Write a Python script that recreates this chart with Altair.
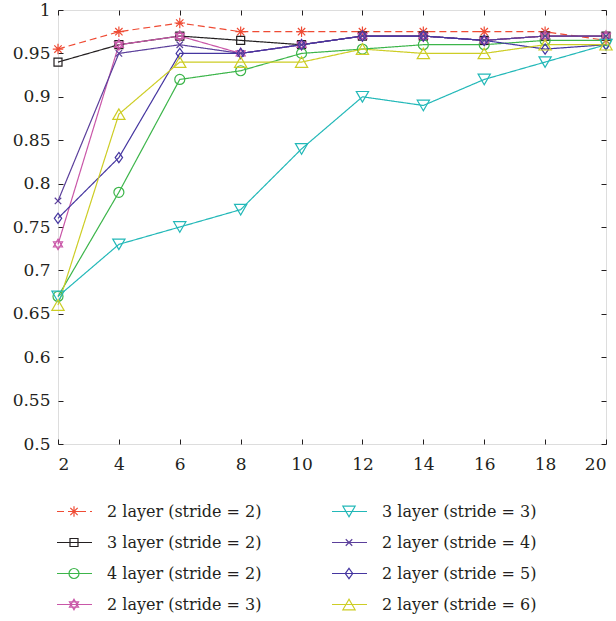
import altair as alt
import pandas as pd

# ---------------- data ----------------
x_vals = [2, 4, 6, 8, 10, 12, 14, 16, 18, 20]
y_ticks = [0.5, 0.55, 0.6, 0.65, 0.7, 0.75, 0.8, 0.85, 0.9, 0.95, 1.0]

series_names = [
    "2 layer (stride = 2)",
    "3 layer (stride = 2)",
    "4 layer (stride = 2)",
    "2 layer (stride = 3)",
    "3 layer (stride = 3)",
    "2 layer (stride = 4)",
    "2 layer (stride = 5)",
    "2 layer (stride = 6)",
]

l2_s2 = [0.955, 0.975, 0.985, 0.975, 0.975, 0.975, 0.975, 0.975, 0.975, 0.965]
l3_s2 = [0.940, 0.960, 0.970, 0.965, 0.960, 0.970, 0.970, 0.965, 0.970, 0.970]
l4_s2 = [0.670, 0.790, 0.920, 0.930, 0.950, 0.955, 0.960, 0.960, 0.965, 0.965]
l2_s3 = [0.730, 0.960, 0.970, 0.950, 0.960, 0.970, 0.970, 0.965, 0.970, 0.970]
l3_s3 = [0.670, 0.730, 0.750, 0.770, 0.840, 0.900, 0.890, 0.920, 0.940, 0.960]
l2_s4 = [0.780, 0.950, 0.960, 0.950, 0.960, 0.970, 0.970, 0.965, 0.970, 0.970]
l2_s5 = [0.760, 0.830, 0.950, 0.950, 0.960, 0.970, 0.970, 0.965, 0.955, 0.960]
l2_s6 = [0.660, 0.880, 0.940, 0.940, 0.940, 0.955, 0.950, 0.950, 0.960, 0.960]
series_values = [l2_s2, l3_s2, l4_s2, l2_s3, l3_s3, l2_s4, l2_s5, l2_s6]

# ---------------- styles ----------------
colors = ["#ef4b34", "#231f20", "#3cb54a", "#c957a8", "#22b8b8", "#5b3f9b", "#4536a0", "#cdcd25"]
shapes = [
    "M0,-1L0,1M-1,0L1,0M-0.7,-0.7L0.7,0.7M-0.7,0.7L0.7,-0.7",
    "square",
    "circle",
    "M0,-1L0.866,0.5L-0.866,0.5ZM0,1L0.866,-0.5L-0.866,-0.5Z",
    "triangle-down",
    "M-1,-1L1,1M-1,1L1,-1",
    "M0,-1L0.72,0L0,1L-0.72,0Z",
    "triangle-up",
]
marker_sizes = [110, 64, 100, 110, 150, 42, 105, 150]
dashes = [[7, 4], [1, 0], [1, 0], [1, 0], [1, 0], [1, 0], [1, 0], [1, 0]]

FONT = "DejaVu Serif"
TXT = "#231f20"
AXFS = 17
LEGFS = 16

rows = []
for i, (name, vals) in enumerate(zip(series_names, series_values)):
    for xv, v in zip(x_vals, vals):
        rows.append({"series": name, "x": xv, "acc": v, "msize": marker_sizes[i]})
df = pd.DataFrame(rows)

leg_df = pd.DataFrame({
    "series": series_names,
    "col": [i // 4 for i in range(len(series_names))],
    "row": [i % 4 for i in range(len(series_names))],
    "msize": marker_sizes,
})

color_scale = alt.Scale(domain=series_names, range=colors)
shape_scale = alt.Scale(domain=series_names, range=shapes)
dash_scale = alt.Scale(domain=series_names, range=dashes)
xs = alt.Scale(domain=[2, 20], nice=False, zero=False)
ys = alt.Scale(domain=[0.5, 1.0], nice=False, zero=False)

W, H = 548, 434

base = alt.Chart(df)

lines = base.mark_line(strokeWidth=1.2).encode(
    x=alt.X("x:Q", scale=xs, axis=alt.Axis(
        orient="bottom", values=x_vals, tickSize=0, domain=False, grid=False,
        labelPadding=12, labelFont=FONT, labelFontSize=AXFS, labelColor=TXT, title=None)),
    y=alt.Y("acc:Q", scale=ys, axis=alt.Axis(
        orient="left", values=y_ticks, tickSize=0, domain=False, grid=False,
        format=".2~f", labelPadding=8, labelFont=FONT, labelFontSize=AXFS,
        labelColor=TXT, title=None)),
    color=alt.Color("series:N", scale=color_scale, legend=None),
    strokeDash=alt.StrokeDash("series:N", scale=dash_scale, legend=None),
    order=alt.Order("x:Q"),
)

points = base.mark_point(filled=False, strokeWidth=1.2, opacity=1).encode(
    x=alt.X("x:Q", scale=xs, axis=alt.Axis(
        orient="bottom", offset=-5, values=x_vals, tickSize=5, tickColor=TXT,
        labels=False, domain=False, grid=False, title=None)),
    y=alt.Y("acc:Q", scale=ys, axis=alt.Axis(
        orient="left", offset=-5, values=y_ticks, tickSize=5, tickColor=TXT,
        labels=False, domain=False, grid=False, title=None)),
    color=alt.Color("series:N", scale=color_scale, legend=None),
    shape=alt.Shape("series:N", scale=shape_scale, legend=None),
    size=alt.Size("msize:Q", scale=None, legend=None),
)

mirror = base.mark_point(opacity=0).encode(
    x=alt.X("x:Q", scale=xs, axis=alt.Axis(
        orient="top", offset=-5, values=x_vals, tickSize=5, tickColor=TXT,
        labels=False, domain=False, grid=False, title=None)),
    y=alt.Y("acc:Q", scale=ys, axis=alt.Axis(
        orient="right", offset=-5, values=y_ticks, tickSize=5, tickColor=TXT,
        labels=False, domain=False, grid=False, title=None)),
)

top = alt.layer(lines, points, mirror).resolve_axis(
    x="independent", y="independent"
).properties(width=W, height=H)

leg_base = alt.Chart(leg_df).encode(
    x=alt.X("col:Q", scale=alt.Scale(domain=[0, 1], range=[0, 275]), axis=None),
    y=alt.Y("row:O", scale=alt.Scale(type="point", padding=0.5), axis=None),
)
leg_lines = leg_base.mark_rule(strokeWidth=1.2, xOffset=-1, x2Offset=34).encode(
    x2=alt.X2("col:Q"),
    color=alt.Color("series:N", scale=color_scale, legend=None),
    strokeDash=alt.StrokeDash("series:N", scale=dash_scale, legend=None),
)
leg_pts = leg_base.mark_point(filled=False, strokeWidth=1.2, opacity=1, xOffset=16).encode(
    color=alt.Color("series:N", scale=color_scale, legend=None),
    shape=alt.Shape("series:N", scale=shape_scale, legend=None),
    size=alt.Size("msize:Q", scale=None, legend=None),
)
leg_text = leg_base.mark_text(align="left", baseline="middle", dx=49,
                              font=FONT, fontSize=LEGFS, color=TXT).encode(
    text="series:N"
)
legend = alt.layer(leg_lines, leg_pts, leg_text).properties(
    width=W, height=124, view=alt.ViewBackground(stroke="transparent")
)

chart = alt.vconcat(top, legend, spacing=52, bounds="flush").properties(
    padding={"left": 11, "top": 0, "right": 0, "bottom": 0}
).configure_view(stroke=TXT, strokeWidth=1.3).configure(background="white")

chart.save("out.html", embed_options={"renderer": "svg", "actions": False})
